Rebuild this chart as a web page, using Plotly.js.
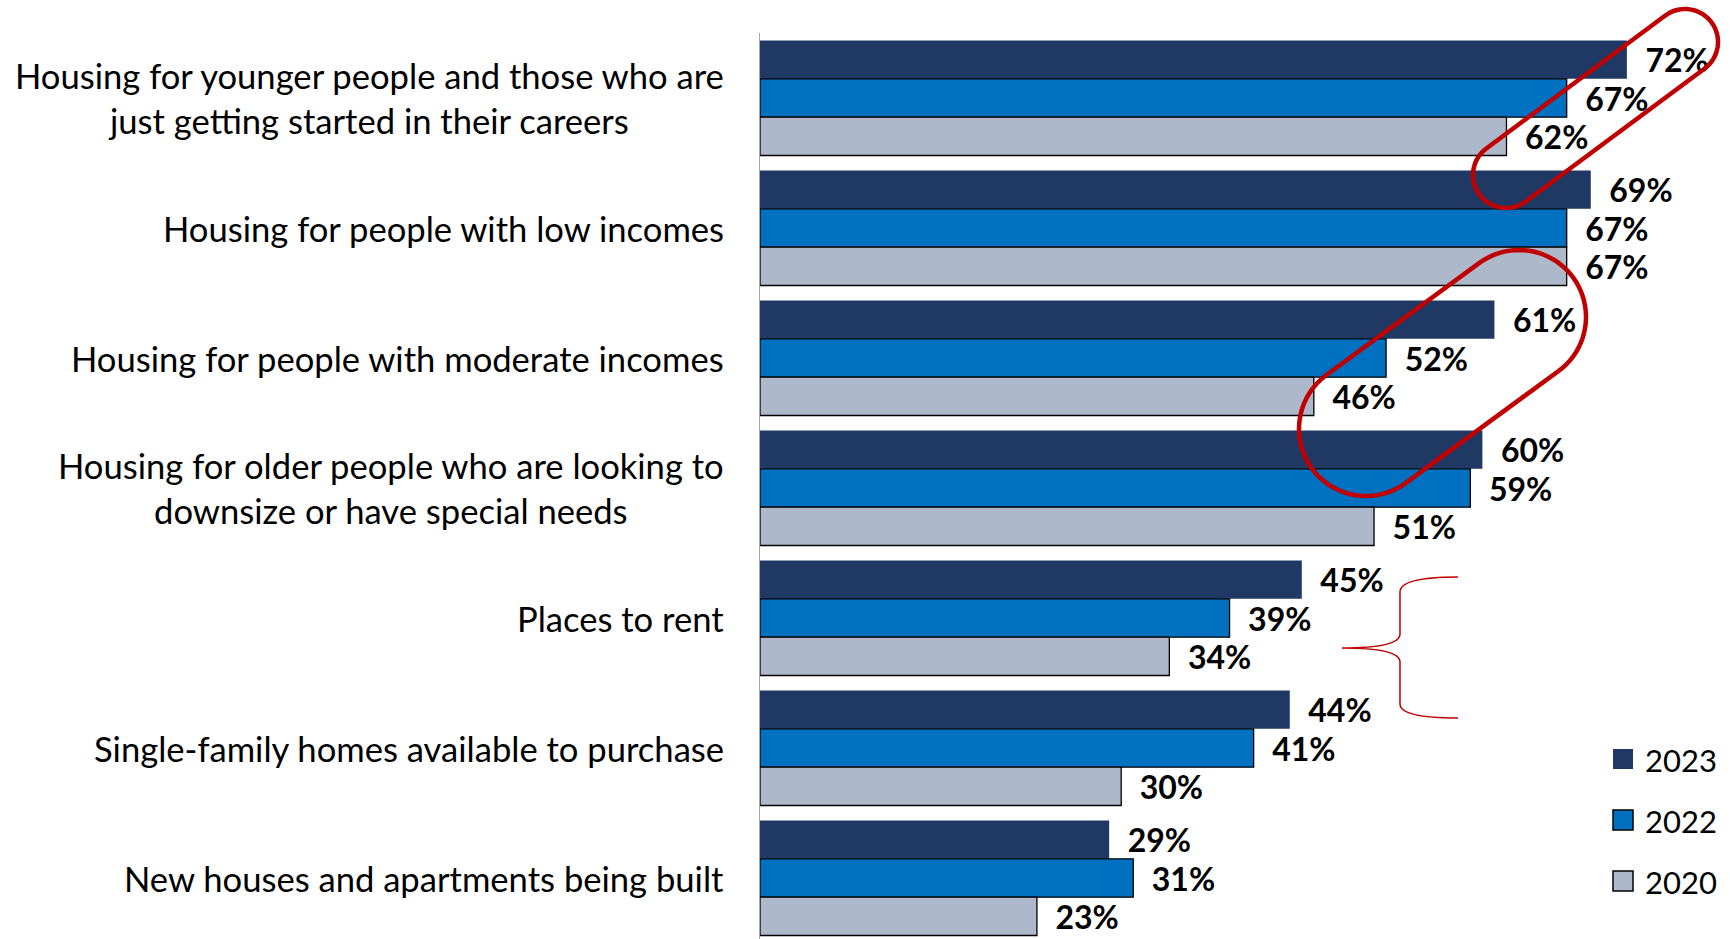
<!DOCTYPE html>
<html>
<head>
<meta charset="utf-8">
<script src="https://cdn.plot.ly/plotly-3.0.1.min.js"></script>
<style>html,body{margin:0;padding:0;background:#fff;}#chart{width:1730px;height:939px;}</style>
</head>
<body>
<div id="chart"></div>
<script>
// ---- data ----
const categories = [
  'Housing for younger people and those who are<br>just getting started in their careers',
  'Housing for people with low incomes',
  'Housing for people with moderate incomes',
  'Housing for older people who are looking to<br>downsize or have special needs',
  'Places to rent',
  'Single-family homes available to purchase',
  'New houses and apartments being built'
];
const seriesNames = ['2023', '2022', '2020'];
const values2023 = [72, 69, 61, 60, 45, 44, 29];
const values2022 = [67, 67, 52, 59, 39, 41, 31];
const values2020 = [62, 67, 46, 51, 34, 30, 23];
const seriesValues = [values2023, values2022, values2020];

// ---- styles ----
const colors = ['#203864', '#0070C0', '#ADB9CA'];
const outlineW = [0, 1.3, 1.3];
const W = 1730, H = 939, L = 760, T = 33;
const PW = W - L, PH = H - T;
const pxPerUnit = 12.04;
const pitch = 130;
const px = x => (x - L) / PW;
const py = y => (H - y) / PH;
const RED = '#C00000';

const traces = seriesNames.map((name, i) => ({
  type: 'bar',
  orientation: 'h',
  name: name,
  y: categories,
  x: seriesValues[i],
  marker: {color: colors[i], line: {color: i === 0 ? colors[0] : '#000000', width: outlineW[i]}},
  text: seriesValues[i].map(v => '\u00a0\u00a0' + v + '%'),
  texttemplate: '%{text}',
  textposition: 'outside',
  textfont: {family: 'Lato', size: 32, color: '#000000', weight: 700},
  constraintext: 'none',
  cliponaxis: false,
  showlegend: false,
  hoverinfo: 'skip'
}));

// category labels (centered multi-line)
const annotations = categories.map(c => ({
  xref: 'paper', yref: 'y', x: px(726), y: c,
  xanchor: 'right', yanchor: 'middle', align: 'center',
  text: c, showarrow: false,
  font: {family: 'Lato', size: 34.6, color: '#000000'}
}));

// legend (drawn)
const legendTop = [749, 810, 871];
const shapes = [];
seriesNames.forEach((name, i) => {
  shapes.push({type: 'rect', xref: 'paper', yref: 'paper',
    x0: px(1613), x1: px(1633), y0: py(legendTop[i]), y1: py(legendTop[i] + 20),
    fillcolor: colors[i], line: {color: i === 0 ? colors[0] : '#000000', width: i === 0 ? 0 : 1.5}});
  annotations.push({xref: 'paper', yref: 'paper', x: px(1643), y: py(legendTop[i] + 11),
    xanchor: 'left', yanchor: 'middle', text: name, showarrow: false,
    font: {family: 'Lato', size: 31, color: '#000000'}});
});

// red stadium highlights
function stadium(c1, c2, r) {
  const dx = c1[0] - c2[0], dy = c1[1] - c2[1];
  const ang = Math.atan2(dy, dx);
  const pts = [];
  const N = 40;
  for (let k = 0; k <= N; k++) {
    const a = ang - Math.PI / 2 + Math.PI * k / N;
    pts.push([c1[0] + r * Math.cos(a), c1[1] + r * Math.sin(a)]);
  }
  for (let k = 0; k <= N; k++) {
    const a = ang + Math.PI / 2 + Math.PI * k / N;
    pts.push([c2[0] + r * Math.cos(a), c2[1] + r * Math.sin(a)]);
  }
  return 'M' + pts.map(p => px(p[0]).toFixed(5) + ',' + py(p[1]).toFixed(5)).join('L') + 'Z';
}
shapes.push({type: 'path', xref: 'paper', yref: 'paper', path: stadium([1685, 42], [1506, 175], 33),
  line: {color: RED, width: 4.5}, fillcolor: 'rgba(0,0,0,0)'});
shapes.push({type: 'path', xref: 'paper', yref: 'paper', path: stadium([1519, 317], [1366, 429], 67),
  line: {color: RED, width: 4.5}, fillcolor: 'rgba(0,0,0,0)'});

// curly brace
const bp = [[1458,577],[1400,577],[1400,592],[1400,634],[1400,648],[1342,648],[1400,648],[1400,662],[1400,704],[1400,718],[1458,718]];
const P = p => px(p[0]).toFixed(5) + ',' + py(p[1]).toFixed(5);
const bracePath = 'M' + P(bp[0]) + ' Q' + P(bp[1]) + ' ' + P(bp[2]) + ' L' + P(bp[3]) +
  ' Q' + P(bp[4]) + ' ' + P(bp[5]) + ' Q' + P(bp[6]) + ' ' + P(bp[7]) + ' L' + P(bp[8]) +
  ' Q' + P(bp[9]) + ' ' + P(bp[10]);
shapes.push({type: 'path', xref: 'paper', yref: 'paper', path: bracePath,
  line: {color: RED, width: 1.5}});

const span = PH / pitch;
const layout = {
  width: W, height: H,
  margin: {l: L, r: 0, t: T, b: 0, pad: 0},
  paper_bgcolor: '#ffffff', plot_bgcolor: '#ffffff',
  barmode: 'group', bargap: 15 / 130, bargroupgap: 0,
  showlegend: false,
  xaxis: {range: [0, PW / pxPerUnit], visible: false, fixedrange: true},
  yaxis: {type: 'category', range: [-0.5 + span, -0.5], showticklabels: false, ticks: '',
    showgrid: false, zeroline: false, showline: true, linecolor: '#A6A6A6', linewidth: 1.5, fixedrange: true},
  annotations: annotations,
  shapes: shapes,
  font: {family: 'Lato'}
};

Plotly.newPlot('chart', traces, layout, {displayModeBar: false, staticPlot: true});
</script>
</body>
</html>
